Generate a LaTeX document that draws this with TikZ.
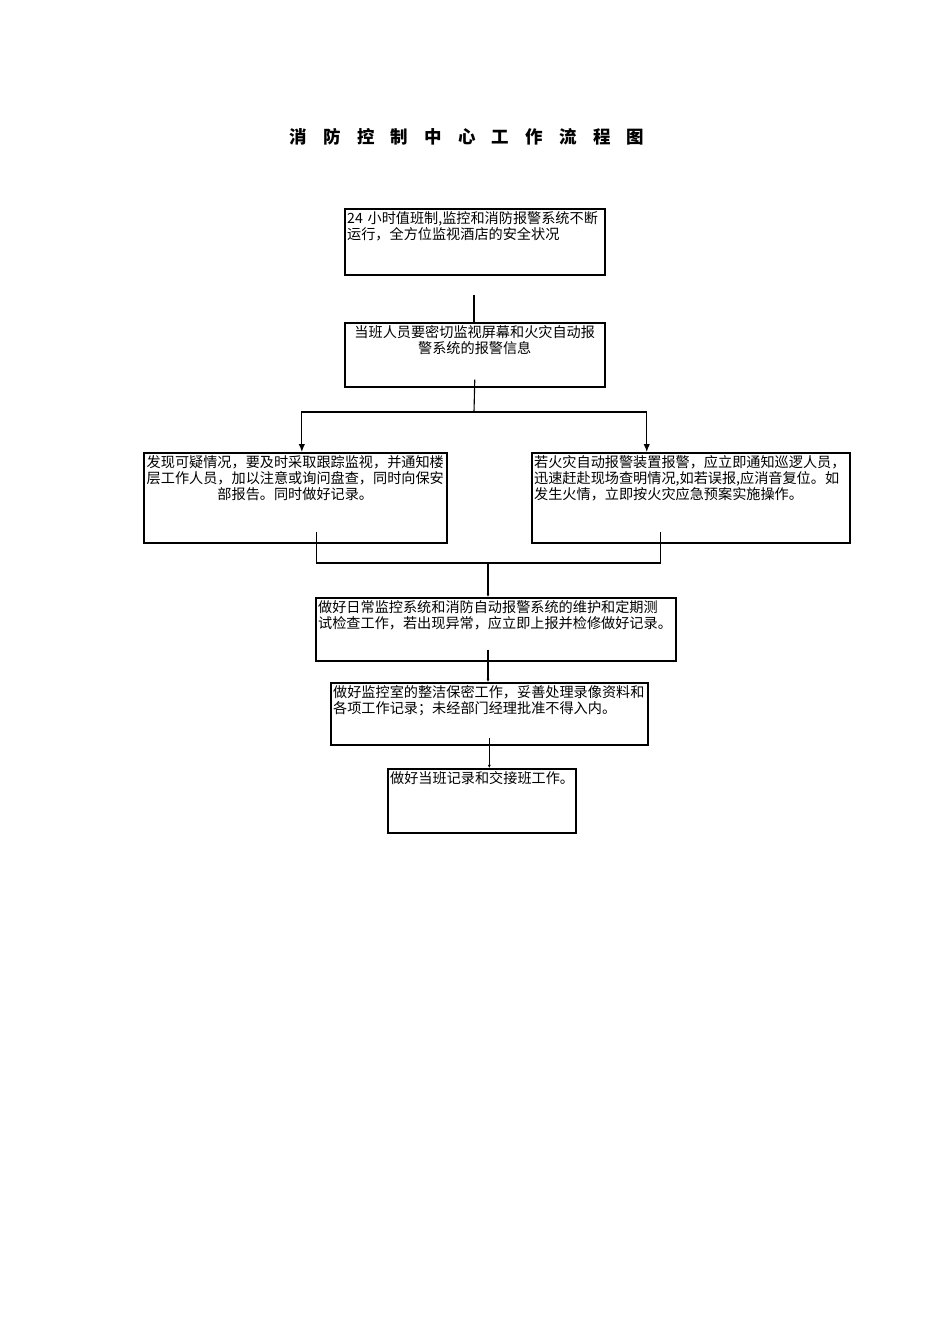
\documentclass[tikz,border=0pt]{standalone}
\usepackage{fontspec}
\usepackage{tikz}
\usetikzlibrary{positioning,arrows.meta}
\newfontfamily\cjk{Noto Sans CJK SC}
\newcommand{\tgap}{\hspace{10.2pt}}

\begin{document}
\begin{tikzpicture} [
		x=0.629pt, y=-0.629pt,
		every node/.style={font=\cjk\fontsize{8.9pt}{10pt}\selectfont},
		box/.style n args={3}{ rectangle, draw=black, line width=1pt,
			anchor=north west, inner sep=1.5pt, text width=#1,
			text height=8pt, text depth=#2, align=#3 },
		title/.style    = { font=\cjk\bfseries\fontsize{11pt}{13pt}\selectfont },
		line/.style     = { draw, line width=0.7pt, >={Latex[length=5pt,width=4pt]} },
		tiny/.style     = { -{Latex[length=2pt,width=2pt]} },
		]
		\useasboundingbox (0,0) rectangle (950,1344);
		% title
		\node [title] (title) at (467,137) {消\tgap 防\tgap 控\tgap 制\tgap 中\tgap 心\tgap 工\tgap 作\tgap 流\tgap 程\tgap 图};
		% Define the boxes
		\node [box={160.5pt}{30.5pt}{left}] (b1) at (344,208) {24 小时值班制,监控和消防报警系统不断\\运行，全方位监视酒店的安全状况};
		\node [box={160.5pt}{29.3pt}{center}] (b2) at (344,322) {当班人员要密切监视屏幕和火灾自动报\\警系统的报警信息};
		\node [box={187.6pt}{45.6pt}{center}] (b3) at (143,452) {发现可疑情况，要及时采取跟踪监视，并通知楼\\层工作人员，加以注意或询问盘查，同时向保安\\部报告。同时做好记录。};
		\node [box={197pt}{45.6pt}{left}] (b4) at (531,452) {若火灾自动报警装置报警，应立即通知巡逻人员，\\迅速赶赴现场查明情况,如若误报,应消音复位。如\\发生火情，立即按火灾应急预案实施操作。};
		\node [box={223.4pt}{28.6pt}{left}] (b5) at (315,597) {做好日常监控系统和消防自动报警系统的维护和定期测\\试检查工作，若出现异常，应立即上报并检修做好记录。};
		\node [box={196.4pt}{28pt}{left}] (b6) at (330,682) {做好监控室的整洁保密工作，妥善处理录像资料和\\各项工作记录；未经部门经理批准不得入内。};
		\node [box={115.3pt}{29.3pt}{left}] (b7) at (387,768) {做好当班记录和交接班工作。};
		% free ends of the links
		\coordinate (top) at (474,295);
		\coordinate (split) at (474,412);
		\coordinate (merge) at (488,563);
		% connect all nodes defined above
		\begin{scope} [every path/.style=line]
		\path (top) -- (top |- b2.north);
		\path ([yshift=5pt] b2.south) -- (split);
		\path[->] (split) -| ([xshift=4.1pt] b3.north);
		\path[->] (split) -| ([xshift=-27.7pt] b4.north);
		% Draw the join below the two branches
		\path ([xshift=13.5pt, yshift=7.5pt] b3.south) |- (merge) -| ([xshift=-18.9pt, yshift=7.5pt] b4.south);
		\path[tiny] (merge) -- (merge |- b5.north);
		\path[tiny] (merge |- b5.south) ++(0,-12) -- (merge |- b6.north);
		\path[tiny] ([yshift=5pt] b6.south) -- (b6.south |- b7.north);
		\end{scope}
		\end{tikzpicture}
\end{document}
